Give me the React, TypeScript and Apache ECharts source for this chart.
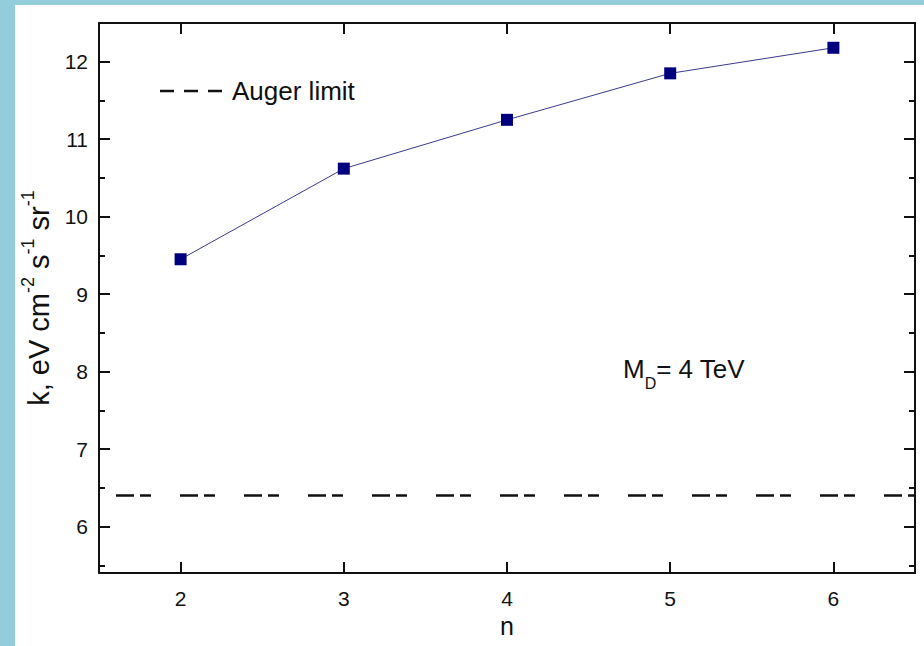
import React, { useEffect, useRef } from "react";
import * as echarts from "echarts";

const nValues = [2, 3, 4, 5, 6];
const kValues = [9.45, 10.62, 11.25, 11.85, 12.18];
const augerLimit = 6.4;
const xTicks = [2, 3, 4, 5, 6];
const yTicks = [6, 7, 8, 9, 10, 11, 12];
const yMinorTicks = [5.5, 6.5, 7.5, 8.5, 9.5, 10.5, 11.5, 12.5];
const xRange = [1.5, 6.5];
const yRange = [5.4, 12.5];

const FONT = "'Liberation Sans', Arial, sans-serif";

export default function App() {
  const ref = useRef<HTMLDivElement>(null);
  useEffect(() => {
    if (!ref.current) return;
    const chart = echarts.init(ref.current, null, { renderer: "svg" });
    const axisLine = { show: true, lineStyle: { color: "#111", width: 2 } };
    const majorTick = (vals: number[]) => ({
      show: true,
      inside: true,
      length: 11,
      customValues: vals,
      lineStyle: { color: "#111", width: 2 },
    });
    const minorTickAx = (vals: number[]) => ({
      show: true,
      inside: true,
      length: 6,
      customValues: vals,
      lineStyle: { color: "#111", width: 2 },
    });
    const yBase = {
      type: "value",
      min: yRange[0],
      max: yRange[1],
      splitLine: { show: false },
    };
    const xBase = {
      type: "value",
      min: xRange[0],
      max: xRange[1],
      splitLine: { show: false },
    };
    chart.setOption({
      animation: false,
      backgroundColor: "#ffffff",
      textStyle: { fontFamily: FONT },
      grid: {
        left: 84,
        top: 18,
        right: 9,
        bottom: 73,
        containLabel: false,
        outerBoundsMode: "none",
      },
      xAxis: [
        {
          ...xBase,
          position: "bottom",
          axisLine,
          axisTick: majorTick(xTicks),
          axisLabel: {
            customValues: xTicks,
            margin: 15,
            fontSize: 21,
            color: "#111",
            fontFamily: FONT,
          },
          name: "n",
          nameLocation: "middle",
          nameGap: 40,
          nameTextStyle: { fontSize: 25, color: "#111", fontFamily: FONT },
        },
        {
          ...xBase,
          position: "top",
          axisLine,
          axisTick: majorTick(xTicks),
          axisLabel: { show: false },
        },
      ],
      yAxis: [
        {
          ...yBase,
          position: "left",
          axisLine,
          axisTick: majorTick(yTicks),
          axisLabel: {
            customValues: yTicks,
            margin: 11,
            fontSize: 21,
            color: "#111",
            fontFamily: FONT,
          },
          name: "{a|k, eV cm}{s|-2}{a| s}{s|-1}{a| sr}{s|-1}",
          nameLocation: "middle",
          nameRotate: 90,
          nameGap: 29,
          nameTextStyle: {
            fontFamily: FONT,
            rich: {
              a: { fontSize: 29, lineHeight: 40, color: "#111", fontFamily: FONT },
              s: {
                fontSize: 18,
                lineHeight: 18,
                verticalAlign: "top",
                color: "#111",
                fontFamily: FONT,
              },
            },
          },
        },
        {
          ...yBase,
          position: "left",
          offset: 0,
          axisLine: { show: false },
          axisTick: minorTickAx(yMinorTicks),
          axisLabel: { show: false },
        },
        {
          ...yBase,
          position: "right",
          offset: 0,
          axisLine,
          axisTick: majorTick(yTicks),
          axisLabel: { show: false },
        },
        {
          ...yBase,
          position: "right",
          offset: 0,
          axisLine: { show: false },
          axisTick: minorTickAx(yMinorTicks),
          axisLabel: { show: false },
        },
      ],
      graphic: [
        {
          type: "line",
          shape: { x1: 145, y1: 86, x2: 207, y2: 86 },
          style: { stroke: "#111", lineWidth: 2.5, lineDash: [14, 10] },
        },
        {
          type: "text",
          x: 217,
          y: 86,
          style: {
            text: "Auger limit",
            fontSize: 26,
            fontFamily: FONT,
            fill: "#111",
            verticalAlign: "middle",
            align: "left",
          },
        },
        {
          type: "text",
          x: 608,
          y: 364,
          style: {
            text: "{a|M}{b|D}{a|= 4 TeV}",
            fontFamily: FONT,
            verticalAlign: "middle",
            align: "left",
            rich: {
              a: { fontSize: 26, lineHeight: 44, fill: "#111", fontFamily: FONT },
              b: {
                fontSize: 16,
                lineHeight: 16,
                verticalAlign: "bottom",
                fill: "#111",
                fontFamily: FONT,
              },
            },
          },
        },
      ],
      series: [
        {
          type: "line",
          xAxisIndex: 0,
          yAxisIndex: 0,
          data: nValues.map((n, i) => [n, kValues[i]]),
          symbol: "rect",
          symbolSize: 12,
          itemStyle: { color: "#00007f" },
          lineStyle: { color: "#3a3a8c", width: 1 },
          z: 3,
          markLine: {
            silent: true,
            symbol: "none",
            label: { show: false },
            lineStyle: {
              color: "#111",
              width: 2.5,
              type: [18, 6, 11, 29],
              dashOffset: 47,
            },
            data: [{ yAxis: augerLimit }],
          },
        },
      ],
    });
    return () => chart.dispose();
  }, []);
  return (
    <div
      style={{
        position: "fixed",
        left: 0,
        top: 0,
        width: 924,
        height: 646,
        background: "#93cddc",
      }}
    >
      <div
        ref={ref}
        style={{ position: "absolute", left: 15, top: 5, width: 909, height: 641 }}
      />
    </div>
  );
}
